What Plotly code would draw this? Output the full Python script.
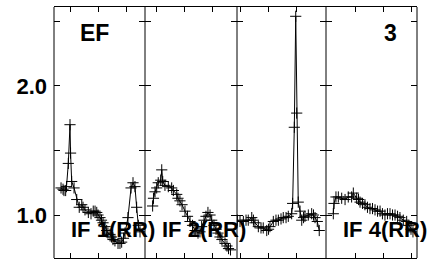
import plotly.graph_objects as go

# ---- data ----
p1_x = [-6.4, -5.0, -4.3, -3.1, -2.5, -1.2, 0.0, 0.4, 1.2, 2.9, 4.8, 6.6, 8.4, 9.3, 10.7, 13.1, 15.0,
        16.6, 17.9, 19.1, 20.0, 21.4, 22.5, 23.6, 25.0, 26.2, 27.1, 28.6, 29.6, 30.7, 32.1, 34.3, 35.7,
        36.9, 38.2, 39.3, 41.4, 43.6, 45.0, 46.4, 47.6, 48.8, 50.0]
p1_y = [1.21, 1.20, 1.19, 1.19, 1.22, 1.40, 1.70, 1.48, 1.26, 1.21, 1.12, 1.06, 1.08, 1.06, 1.04, 1.02, 1.01,
        1.03, 1.03, 1.02, 1.00, 0.98, 0.96, 0.94, 0.91, 0.88, 0.86, 0.85, 0.83, 0.81, 0.80, 0.78, 0.78,
        0.79, 0.82, 0.86, 0.98, 1.21, 1.25, 1.22, 1.06, 0.92, 0.87]

p2_x = [-2.4, -1.8, -0.7, 0.5, 1.6, 3.4, 4.1, 4.8, 6.4, 8.8, 11.2, 12.4, 14.8, 15.7, 17.1, 18.6, 20.7,
        22.5, 24.3, 26.1, 27.9, 30.0, 31.4, 32.6, 34.3, 35.7, 37.1, 38.6, 39.8, 41.4, 42.9, 44.3, 45.7,
        47.1, 49.3, 50.7, 51.8, 53.2]
p2_y = [1.07, 1.13, 1.18, 1.21, 1.25, 1.27, 1.35, 1.26, 1.23, 1.22, 1.21, 1.19, 1.16, 1.13, 1.11, 1.08, 1.03,
        0.99, 0.95, 0.92, 0.88, 0.86, 0.87, 0.91, 0.96, 0.99, 1.02, 1.00, 0.96, 0.92, 0.89, 0.86, 0.83,
        0.81, 0.78, 0.76, 0.74, 0.73]

p3_x = [-1.9, 0.0, 2.4, 4.3, 5.9, 8.4, 9.6, 10.7, 13.1, 15.0, 16.6, 19.1, 20.4, 21.4, 23.8, 25.7, 27.4,
        29.3, 30.9, 32.9, 34.5, 36.9, 37.6, 38.8, 39.8, 40.5, 41.6, 42.9, 44.1, 45.4, 46.4, 48.8, 51.2,
        52.5, 53.6, 55.2, 56.6]
p3_y = [0.96, 0.95, 0.95, 0.96, 0.96, 0.98, 0.96, 0.94, 0.91, 0.90, 0.90, 0.88, 0.89, 0.91, 0.95, 0.96, 0.96,
        0.97, 0.98, 0.98, 0.99, 1.01, 1.09, 1.68, 2.54, 1.79, 1.10, 1.03, 0.96, 0.98, 0.99, 1.00, 1.01,
        1.00, 0.98, 0.95, 0.88]

p4_x = [-15.5, -15.0, -13.6, -11.9, -9.5, -7.1, -4.8, -2.4, -1.2, 1.2, 2.5, 3.6, 5.4, 7.1, 8.9, 10.7, 12.5,
        14.3, 16.1, 17.9, 19.6, 21.4, 23.2, 25.0, 26.8, 28.6, 30.4, 32.1, 34.5, 36.9, 38.6, 40.0, 41.4]
p4_y = [1.01, 1.09, 1.14, 1.14, 1.13, 1.12, 1.14, 1.14, 1.17, 1.13, 1.12, 1.10, 1.09, 1.08, 1.06, 1.05, 1.05,
        1.04, 1.03, 1.03, 1.01, 1.00, 1.01, 1.01, 1.00, 1.00, 0.99, 0.98, 0.96, 0.95, 0.92, 0.89, 0.87]

panel_labels = ["IF 1(RR)", "IF 2(RR)", None, "IF 4(RR)"]
top_labels = ["EF", None, None, "3"]
y_tickvals = [1.0, 1.5, 2.0, 2.5]
y_ticktext = ["1.0", "", "2.0", ""]
x_tickvals = [0, 20, 40]

# ---- layout geometry ----
W, H = 430, 260
L, R, T, B = 54, 13, 7, 2
pw = W - L - R
ph = H - T - B
panel_px = [(54, 145), (145, 237), (237, 326), (326, 417)]
tick0_px = [70, 156, 240, 355]
ppu = 1.4
yrange = [0.667, 2.612]

def px2x(px):
    return (px - L) / pw

def py2y(py):
    return (H - B - py) / ph

xs = [p1_x, p2_x, p3_x, p4_x]
ys = [p1_y, p2_y, p3_y, p4_y]

fig = go.Figure()
layout = dict(
    width=W, height=H,
    margin=dict(l=L, r=R, t=T, b=B),
    plot_bgcolor="white", paper_bgcolor="white",
    showlegend=False,
    font=dict(family="Liberation Sans, Arial, sans-serif", color="black"),
)
for i in range(4):
    n = "" if i == 0 else str(i + 1)
    fig.add_trace(go.Scatter(
        x=xs[i], y=ys[i], mode="lines+markers",
        xaxis="x" + n, yaxis="y" + n,
        line=dict(color="black", width=1),
        marker=dict(symbol="cross-thin", size=8, line=dict(color="black", width=1)),
        cliponaxis=True,
    ))
    a, b = panel_px[i]
    x0 = (a - tick0_px[i]) / ppu
    x1 = (b - tick0_px[i]) / ppu
    layout["xaxis" + n] = dict(
        domain=[px2x(a), px2x(b)], range=[x0, x1], anchor="y" + n,
        showline=True, linecolor="black", linewidth=1, mirror="ticks",
        ticks="inside", ticklen=5, tickcolor="black", tickvals=x_tickvals,
        showticklabels=False, showgrid=False, zeroline=False,
    )
    layout["yaxis" + n] = dict(
        domain=[0, 1], range=yrange, anchor="x" + n,
        showline=False, mirror="ticks",
        ticks="inside", ticklen=6, tickcolor="black",
        tickvals=y_tickvals, ticktext=["<b>%s</b>" % t if t else "" for t in y_ticktext],
        showticklabels=(i == 0), tickfont=dict(size=22), ticklabelstandoff=6,
        showgrid=False, zeroline=False,
    )
    if i > 0:
        layout["yaxis" + n]["matches"] = "y"

# single-pixel panel borders
shapes = []
edges = [54, 145, 237, 326, 417]
for e in edges:
    shapes.append(dict(type="line", xref="paper", yref="paper",
                       x0=px2x(e), x1=px2x(e), y0=0, y1=1,
                       line=dict(color="black", width=1)))
layout["shapes"] = shapes

annotations = []
for i in range(4):
    a, b = panel_px[i]
    if top_labels[i]:
        xpos = 78 if i == 0 else 382
        annotations.append(dict(x=px2x(xpos), y=py2y(33), xref="paper", yref="paper",
                                xanchor="left", yanchor="middle", showarrow=False,
                                text="<b>%s</b>" % top_labels[i], font=dict(size=23)))
    if panel_labels[i]:
        annotations.append(dict(x=px2x(a + 15), y=py2y(229), xref="paper", yref="paper",
                                xanchor="left", yanchor="middle", showarrow=False,
                                text="<b>%s</b>" % panel_labels[i], font=dict(size=22)))
layout["annotations"] = annotations
fig.update_layout(**layout)
fig.write_html("out.html", config={"displayModeBar": False},
               post_script="document.body.style.margin='0';")
